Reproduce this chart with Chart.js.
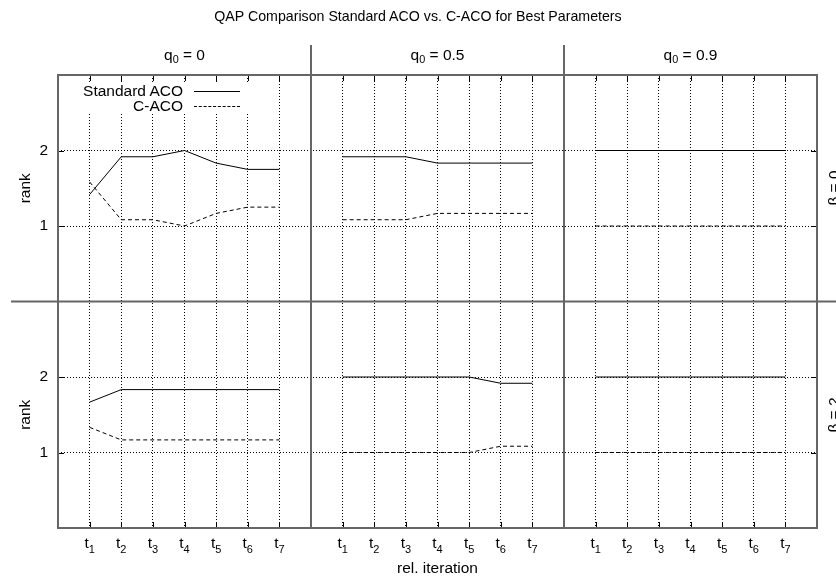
<!DOCTYPE html>
<html>
<head>
<meta charset="utf-8">
<script src="https://cdn.jsdelivr.net/npm/chart.js@4/dist/chart.umd.min.js"></script>
<style>
  html, body { margin: 0; padding: 0; background: #fff; overflow: hidden; }
  #wrap { position: relative; width: 836px; height: 581px; overflow: hidden; font-family: "Liberation Sans", Arial, sans-serif; color: #000; }
  #chart { position: absolute; left: 0; top: 0; }
  .lbl { position: absolute; white-space: nowrap; line-height: 1; transform: translateX(-50%); }
  .lbl sub { font-size: 0.7em; vertical-align: baseline; position: relative; top: 0.33em; }
  .beta { position: absolute; white-space: nowrap; line-height: 1; font-size: 15.5px; transform: translate(-50%, -50%) rotate(-90deg); }
  #legend { position: absolute; left: 70px; top: 83px; width: 182px; height: 31px; background: #fff; font-size: 15.5px; }
  #legend span { position: absolute; right: 69px; line-height: 1; white-space: nowrap; }
  #legend i { position: absolute; left: 124px; width: 46px; height: 0; border-top: 1px solid #000; }
  #legend i.dash { border-top: 1px dashed #000; }
</style>
</head>
<body>
<div id="wrap">
  <canvas id="chart" width="836" height="581"></canvas>
  <div id="legend"></div>
</div>
<script>
const iterations = [1, 2, 3, 4, 5, 6, 7];
const rankTicks  = [1, 2];
const q0Values   = ['0', '0.5', '0.9'];
const betaValues = ['0', '2'];
const seriesNames = ['Standard ACO', 'C-ACO'];

// beta = 0
const stdB0Q0   = [1.417, 1.917, 1.917, 2.0, 1.833, 1.75, 1.75];
const cacoB0Q0  = [1.583, 1.083, 1.083, 1.0, 1.167, 1.25, 1.25];
const stdB0Q05  = [1.917, 1.917, 1.917, 1.833, 1.833, 1.833, 1.833];
const cacoB0Q05 = [1.083, 1.083, 1.083, 1.167, 1.167, 1.167, 1.167];
const stdB0Q09  = [2, 2, 2, 2, 2, 2, 2];
const cacoB0Q09 = [1, 1, 1, 1, 1, 1, 1];

// beta = 2
const stdB2Q0   = [1.667, 1.833, 1.833, 1.833, 1.833, 1.833, 1.833];
const cacoB2Q0  = [1.333, 1.167, 1.167, 1.167, 1.167, 1.167, 1.167];
const stdB2Q05  = [2, 2, 2, 2, 2, 1.917, 1.917];
const cacoB2Q05 = [1, 1, 1, 1, 1, 1.083, 1.083];
const stdB2Q09  = [2, 2, 2, 2, 2, 2, 2];
const cacoB2Q09 = [1, 1, 1, 1, 1, 1, 1];

const FONT = '"Liberation Sans", Arial, sans-serif';
Chart.defaults.font.family = FONT;
Chart.defaults.color = '#000';

const colIds = ['x0', 'x1', 'x2'];
const rowIds = ['yTop', 'yBot'];
const grid = [
    [[stdB0Q0, cacoB0Q0], [stdB0Q05, cacoB0Q05], [stdB0Q09, cacoB0Q09]],
    [[stdB2Q0, cacoB2Q0], [stdB2Q05, cacoB2Q05], [stdB2Q09, cacoB2Q09]]
];

const datasets = [];
grid.forEach((row, r) => {
    row.forEach((pair, c) => {
        pair.forEach((vals, k) => {
            datasets.push({
                label: seriesNames[k],
                data: iterations.map((t, i) => ({ x: t, y: vals[i] })),
                xAxisID: colIds[c],
                yAxisID: rowIds[r],
                borderColor: '#000',
                borderWidth: 1,
                borderDash: k === 1 ? [4, 3] : [],
                pointRadius: 0,
                tension: 0,
                fill: false
            });
        });
    });
});

const dotted = { display: false, dash: [1, 2] };

function xScale(i) {
    return {
        type: 'linear', position: 'bottom', stack: 'cols', stackWeight: 1, weight: i,
        min: 0, max: 8,
        ticks: { display: false, stepSize: 1 },
        grid: {
            drawTicks: false,
            color: ctx => (ctx.tick && ctx.tick.value >= 1 && ctx.tick.value <= 7) ? '#000' : 'rgba(0,0,0,0)'
        },
        border: dotted,
        title: {
            display: i === 1, text: 'rel. iteration',
            font: { size: 15.5, family: FONT }, padding: { top: 0, bottom: 2.6 }
        },
        afterFit: s => { s.height = 53; }
    };
}

function yScale(w) {
    return {
        type: 'linear', position: 'left', stack: 'rows', stackWeight: 1, weight: w,
        min: 0, max: 3,
        ticks: {
            stepSize: 1, padding: 10, font: { size: 15.5 },
            callback: v => rankTicks.includes(v) ? String(v) : ''
        },
        grid: {
            drawTicks: false,
            color: ctx => (ctx.tick && rankTicks.includes(ctx.tick.value)) ? '#000' : 'rgba(0,0,0,0)'
        },
        border: dotted,
        title: {
            display: true, text: 'rank',
            font: { size: 15.5, family: FONT }, padding: { top: 16.6, bottom: 0 }
        },
        afterFit: s => { s.width = 58; }
    };
}

const framePlugin = {
    id: 'frame',
    afterDraw(chart) {
        const { ctx, chartArea: a, scales } = chart;
        ctx.save();
        ctx.setLineDash([]);

        // inward tick marks
        ctx.strokeStyle = '#000';
        ctx.lineWidth = 1;
        ctx.beginPath();
        colIds.forEach(id => {
            iterations.forEach(t => {
                const x = Math.round(scales[id].getPixelForValue(t)) + 0.5;
                ctx.moveTo(x, a.top); ctx.lineTo(x, a.top + 6);
                ctx.moveTo(x, a.bottom); ctx.lineTo(x, a.bottom - 6);
            });
        });
        rowIds.forEach(id => {
            rankTicks.forEach(v => {
                const y = Math.round(scales[id].getPixelForValue(v)) + 0.5;
                ctx.moveTo(a.left, y); ctx.lineTo(a.left + 6, y);
                ctx.moveTo(a.right, y); ctx.lineTo(a.right - 6, y);
            });
        });
        ctx.stroke();

        // frame and panel separators
        ctx.strokeStyle = '#666';
        ctx.lineWidth = 2;
        ctx.strokeRect(a.left, a.top, a.right - a.left, a.bottom - a.top);
        ctx.beginPath();
        colIds.slice(1).forEach(id => {
            const x = scales[id].left;
            ctx.moveTo(x, 45); ctx.lineTo(x, a.bottom);
        });
        const ym = scales.yBot.top;
        ctx.moveTo(11, ym); ctx.lineTo(chart.width, ym);
        ctx.stroke();

        // x tick labels t with subscript
        ctx.fillStyle = '#000';
        ctx.textBaseline = 'alphabetic';
        ctx.textAlign = 'left';
        colIds.forEach(id => {
            iterations.forEach(t => {
                const x = scales[id].getPixelForValue(t);
                ctx.font = '15.5px ' + FONT;
                const w1 = ctx.measureText('t').width;
                ctx.font = '11px ' + FONT;
                const w2 = ctx.measureText(String(t)).width;
                const x0 = x - (w1 + w2) / 2;
                ctx.font = '15.5px ' + FONT;
                ctx.fillText('t', x0, 548);
                ctx.font = '11px ' + FONT;
                ctx.fillText(String(t), x0 + w1, 553);
            });
        });
        ctx.restore();
    }
};

const chart = new Chart(document.getElementById('chart'), {
    type: 'line',
    data: { datasets },
    options: {
        responsive: false,
        animation: false,
        devicePixelRatio: 1,
        layout: { padding: { left: 0, top: 75, right: 19, bottom: 0 } },
        plugins: { legend: { display: false }, tooltip: { enabled: false } },
        scales: {
            x0: xScale(0), x1: xScale(1), x2: xScale(2),
            yTop: yScale(1), yBot: yScale(0)
        }
    },
    plugins: [framePlugin]
});

// text labels around the panels
const wrap = document.getElementById('wrap');
function addLabel(html, x, baseline, size, cls) {
    const d = document.createElement('div');
    d.className = cls || 'lbl';
    d.style.fontSize = size + 'px';
    d.innerHTML = html;
    d.style.left = x + 'px';
    d.style.top = (baseline - 0.8465 * size) + 'px';
    wrap.appendChild(d);
    return d;
}

addLabel('QAP Comparison Standard ACO vs. C-ACO for Best Parameters', 418, 21, 14.2);
colIds.forEach((id, c) => {
    const s = chart.scales[id];
    addLabel('q<sub>0</sub> = ' + q0Values[c], (s.left + s.right) / 2, 60, 15.5);
});
rowIds.forEach((id, r) => {
    const s = chart.scales[id];
    const d = document.createElement('div');
    d.className = 'beta';
    d.textContent = '\u03B2 = ' + betaValues[r];
    d.style.left = '834px';
    d.style.top = ((s.top + s.bottom) / 2) + 'px';
    wrap.appendChild(d);
});

// legend
const legend = document.getElementById('legend');
seriesNames.forEach((name, k) => {
    const cy = k === 0 ? 8 : 23;
    const sp = document.createElement('span');
    sp.textContent = name;
    sp.style.top = (cy - 7.75) + 'px';
    legend.appendChild(sp);
    const ln = document.createElement('i');
    if (k === 1) ln.className = 'dash';
    ln.style.top = cy + 'px';
    legend.appendChild(ln);
});
</script>
</body>
</html>
